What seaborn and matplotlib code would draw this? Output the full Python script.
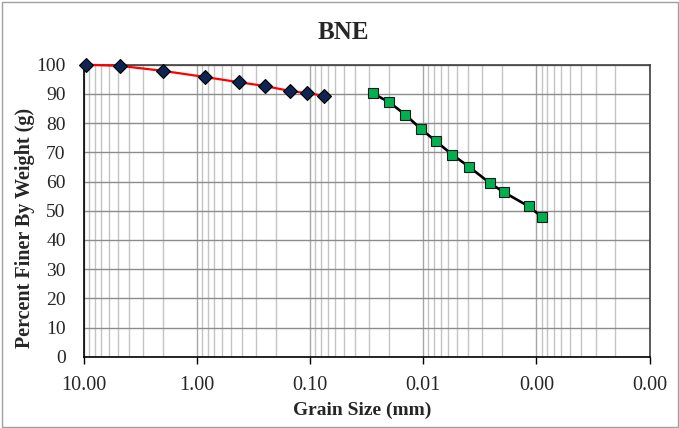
import matplotlib
matplotlib.use("Agg")
import matplotlib.pyplot as plt
import matplotlib.ticker as mticker
import seaborn as sns
import pandas as pd
import numpy as np

# Sieve analysis data
sieve_size = [9.5, 4.75, 2.0, 0.85, 0.425, 0.25, 0.15, 0.106, 0.075]
sieve_finer = [100.0, 99.6, 97.9, 95.8, 94.0, 92.7, 91.0, 90.2, 89.4]

# Hydrometer analysis data
hydro_size = [0.0278, 0.0199, 0.0144, 0.01047, 0.00778, 0.00554, 0.00395,
              0.00258, 0.00195, 0.00117, 0.00089]
hydro_finer = [90.2, 87.1, 82.9, 78.0, 73.9, 69.2, 65.1, 59.5, 56.4, 51.5, 47.8]

x_ticks = [10, 1, 0.1, 0.01, 0.001, 0.0001]
y_ticks = list(range(0, 101, 10))

sns.set_theme(style="white")
plt.rcParams['font.family'] = ['Liberation Serif', 'DejaVu Serif']

W, H = 679, 428
fig = plt.figure(figsize=(W / 100, H / 100), dpi=100)
L, R, T, B = 83.7, 649.5, 64.7, 356.7
ax = fig.add_axes([L / W, 1 - B / H, (R - L) / W, (B - T) / H])

sieve_df = pd.DataFrame({"size": sieve_size, "finer": sieve_finer})
hydro_df = pd.DataFrame({"size": hydro_size, "finer": hydro_finer})

sns.lineplot(data=sieve_df, x="size", y="finer", ax=ax, color="#ff0000", lw=1.6,
             marker="D", markersize=7, markerfacecolor="#0d2550",
             markeredgecolor="#000000", markeredgewidth=0.8, zorder=5, clip_on=False)
sns.lineplot(data=hydro_df, x="size", y="finer", ax=ax, color="#000000", lw=1.9,
             marker="s", markersize=6.5, markerfacecolor="#00b050",
             markeredgecolor="#1a1a1a", markeredgewidth=0.8, zorder=5, clip_on=False)

ax.set_xscale("log")
ax.set_xlim(10, 0.0001)
ax.set_ylim(0, 100)
ax.set_xticks(x_ticks)
ax.xaxis.set_major_formatter(mticker.FuncFormatter(lambda v, p: f"{v:.2f}"))
ax.xaxis.set_minor_locator(mticker.LogLocator(base=10, subs=np.arange(2, 10)))
ax.xaxis.set_minor_formatter(mticker.NullFormatter())
ax.set_yticks(y_ticks)

ax.grid(True, which="major", axis="y", color="#8c8c8c", lw=1.0)
ax.grid(True, which="major", axis="x", color="#a6a6a6", lw=1.0)
ax.grid(True, which="minor", axis="x", color="#c4c4c4", lw=1.0)
ax.set_axisbelow(True)

for s in ["left", "bottom"]:
    ax.spines[s].set_color("#000000")
    ax.spines[s].set_linewidth(1.2)
for s in ["top", "right"]:
    ax.spines[s].set_color("#404040")
    ax.spines[s].set_linewidth(1.2)

ax.tick_params(axis="x", which="major", direction="out", length=5, width=1,
               color="#000000", labelsize=14.5, pad=9, bottom=True)
ax.tick_params(axis="x", which="minor", length=0)
ax.tick_params(axis="y", which="major", direction="out", length=0,
               labelsize=14, pad=13, left=True)
ax.set_xlabel("")
ax.set_ylabel("")

fig.text(343.7 / W, 1 - 32.3 / H, "BNE", fontsize=18, fontweight="bold",
         ha="center", va="center")
fig.text(362.5 / W, 1 - 410 / H, "Grain Size (mm)", fontsize=14, fontweight="bold",
         ha="center", va="center")
fig.text(25 / W, 1 - 228 / H, "Percent Finer By Weight (g)", fontsize=14.5,
         fontweight="bold", ha="center", va="center", rotation=90)

border = plt.Rectangle((1.5 / W, 1.5 / H), (W - 3) / W, (H - 3) / H,
                       transform=fig.transFigure, fill=False,
                       edgecolor="#a0a0a0", lw=1.0)
fig.patches.append(border)

fig.savefig("out.png", dpi=100)
